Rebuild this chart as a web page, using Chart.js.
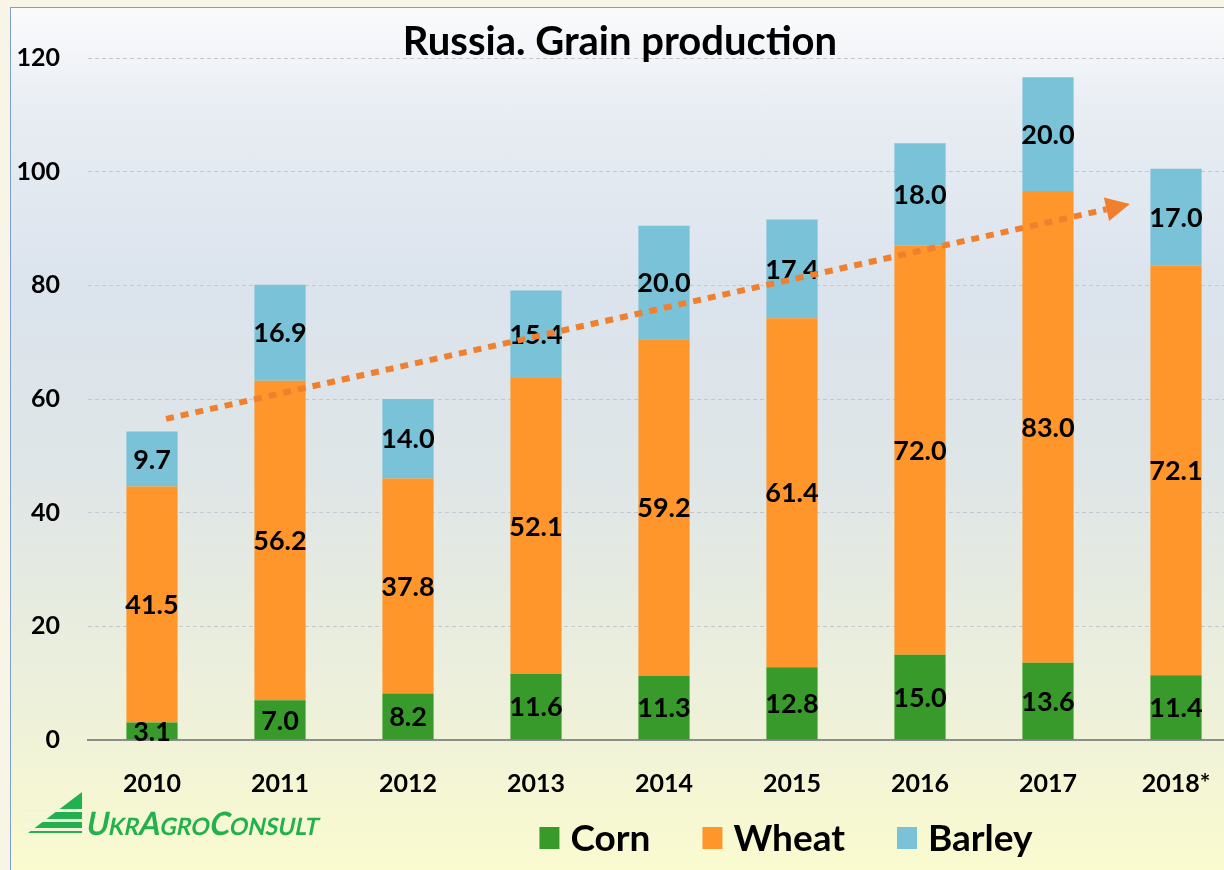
<!DOCTYPE html>
<html>
<head>
<meta charset="utf-8">
<title>Russia. Grain production</title>
<script src="https://cdn.jsdelivr.net/npm/chart.js@4.4.0/dist/chart.umd.min.js"></script>
<style>
  html, body { margin: 0; padding: 0; width: 1224px; height: 870px; overflow: hidden; background: #f8f5e6; }
  #frame {
    position: absolute; left: 10px; top: 7px; width: 1240px; height: 863px;
    border-left: 1px solid #7a9fd4; border-top: 1px solid #7a9fd4;
    background: linear-gradient(to bottom, #fbfbfc 0%, #e8edf3 12%, #dbe3ed 33%, #dfe6e6 55%, #edf0da 80%, #fafbcf 100%);
  }
  canvas { display: block; }
</style>
</head>
<body>
<div id="frame"><canvas id="chart" width="1239" height="862"></canvas></div>
<script>
(function () {
  'use strict';

  // ── Data ──────────────────────────────────────────
  var years  = ['2010', '2011', '2012', '2013', '2014', '2015', '2016', '2017', '2018*'];
  var corn   = [3.1, 7.0, 8.2, 11.6, 11.3, 12.8, 15.0, 13.6, 11.4];
  var wheat  = [41.5, 56.2, 37.8, 52.1, 59.2, 61.4, 72.0, 83.0, 72.1];
  var barley = [9.7, 16.9, 14.0, 15.4, 20.0, 17.4, 18.0, 20.0, 17.0];
  var yTicks = [0, 20, 40, 60, 80, 100, 120];
  // trend arrow, in category index / million t
  var trendX = [0.11, 7.64];
  var trendY = [56.5, 94.3];

  var FONT = "Lato, 'Open Sans', 'DejaVu Sans', sans-serif";
  var green = '#389a2a';
  var orange = '#fe962c';
  var blue = '#7ac2d8';
  var arrowColor = '#f0802e';

  // ── Plugins ───────────────────────────────────────
  var segmentLabels = {
    id: 'segmentLabels',
    afterDatasetsDraw: function (chart) {
      var ctx = chart.ctx;
      ctx.save();
      ctx.font = 'bold 27px ' + FONT;
      ctx.fillStyle = '#000';
      ctx.textAlign = 'center';
      ctx.textBaseline = 'middle';
      chart.data.datasets.forEach(function (ds, di) {
        chart.getDatasetMeta(di).data.forEach(function (bar, i) {
          var v = ds.data[i];
          ctx.fillText(v.toFixed(1), bar.x, (bar.y + bar.base) / 2 + 1);
        });
      });
      ctx.restore();
    }
  };

  var trendArrow = {
    id: 'trendArrow',
    afterDraw: function (chart) {
      var xs = chart.scales.x, ys = chart.scales.y, ctx = chart.ctx;
      var x1 = xs.getPixelForValue(trendX[0]), y1 = ys.getPixelForValue(trendY[0]);
      var x2 = xs.getPixelForValue(trendX[1]), y2 = ys.getPixelForValue(trendY[1]);
      var ang = Math.atan2(y2 - y1, x2 - x1);
      var head = 24, half = 12;
      var bx = x2 - head * Math.cos(ang), by = y2 - head * Math.sin(ang);
      ctx.save();
      ctx.strokeStyle = arrowColor;
      ctx.lineWidth = 6;
      ctx.setLineDash([8, 7]);
      ctx.beginPath();
      ctx.moveTo(x1, y1);
      ctx.lineTo(bx, by);
      ctx.stroke();
      ctx.setLineDash([]);
      ctx.fillStyle = arrowColor;
      ctx.beginPath();
      ctx.moveTo(x2, y2);
      ctx.lineTo(bx + half * Math.sin(ang), by - half * Math.cos(ang));
      ctx.lineTo(bx - half * Math.sin(ang), by + half * Math.cos(ang));
      ctx.closePath();
      ctx.fill();
      ctx.restore();
    }
  };

  var titleAndLegend = {
    id: 'titleAndLegend',
    afterDraw: function (chart) {
      var ctx = chart.ctx;
      ctx.save();
      // title
      ctx.font = 'bold 40px ' + FONT;
      ctx.fillStyle = '#000';
      ctx.textAlign = 'center';
      ctx.textBaseline = 'middle';
      ctx.fillText('Russia. Grain production', 609, 34);

      // legend
      ctx.font = 'bold 37px ' + FONT;
      ctx.textAlign = 'left';
      var items = chart.data.datasets.map(function (ds) {
        return { text: ds.label, color: ds.backgroundColor, w: ctx.measureText(ds.label).width };
      });
      var boxW = 20, boxH = 22, gapIn = 11, gapOut = 52;
      var total = 0;
      items.forEach(function (it, i) { total += boxW + gapIn + it.w + (i ? gapOut : 0); });
      var x = 775 - total / 2, y = 830;
      items.forEach(function (it) {
        ctx.fillStyle = it.color;
        ctx.fillRect(x, y - boxH / 2, boxW, boxH);
        ctx.fillStyle = '#000';
        ctx.fillText(it.text, x + boxW + gapIn, y + 1);
        x += boxW + gapIn + it.w + gapOut;
      });

      // logo
      var lg = '#22b14c';
      ctx.fillStyle = lg;
      ctx.beginPath();
      ctx.moveTo(71, 784);
      ctx.lineTo(71, 825);
      ctx.lineTo(17, 825);
      ctx.closePath();
      ctx.fill();
      ctx.fillStyle = '#f3f4da';
      [801, 811, 820].forEach(function (sy) {
        ctx.fillRect(10, sy, 70, 3);
      });
      ctx.fillStyle = lg;
      ctx.textBaseline = 'alphabetic';
      ctx.translate(74, 827);
      ctx.transform(0.95, 0, -0.2, 1, 0, 0);
      var parts = [['U', 32], ['KR', 24], ['A', 32], ['GRO', 24], ['C', 32], ['ONSULT', 24]];
      var px = 0;
      parts.forEach(function (p) {
        ctx.font = 'bold ' + p[1] + 'px ' + FONT;
        ctx.fillText(p[0], px, 0);
        px += ctx.measureText(p[0]).width;
      });
      ctx.restore();
    }
  };

  // ── Chart ─────────────────────────────────────────
  new Chart(document.getElementById('chart'), {
    type: 'bar',
    data: {
      labels: years,
      datasets: [
        { label: 'Corn', data: corn, backgroundColor: green },
        { label: 'Wheat', data: wheat, backgroundColor: orange },
        { label: 'Barley', data: barley, backgroundColor: blue }
      ]
    },
    options: {
      responsive: false,
      animation: false,
      layout: { padding: { left: 0, right: 10, top: 50, bottom: 0 } },
      datasets: { bar: { categoryPercentage: 0.8, barPercentage: 0.5 } },
      plugins: {
        legend: { display: false },
        title: { display: false },
        tooltip: { enabled: false }
      },
      scales: {
        x: {
          stacked: true,
          grid: { display: false },
          border: { display: true, color: '#8c8c8c', width: 2 },
          ticks: { font: { size: 25, weight: 'bold', family: FONT }, color: '#000', padding: 21 },
          afterFit: function (s) { s.height = 130; }
        },
        y: {
          stacked: true,
          min: 0,
          max: 120,
          afterBuildTicks: function (s) { s.ticks = yTicks.map(function (v) { return { value: v }; }); },
          grid: {
            drawTicks: false,
            color: function (c) { return c.tick && c.tick.value === 0 ? 'rgba(0,0,0,0)' : '#c4c8cd'; },
            lineWidth: 1
          },
          border: { display: false, dash: [4, 3] },
          ticks: { font: { size: 25, weight: 'bold', family: FONT }, color: '#000', padding: 28 },
          afterFit: function (s) { s.width = 77; }
        }
      }
    },
    plugins: [segmentLabels, trendArrow, titleAndLegend]
  });
})();
</script>
</body>
</html>
